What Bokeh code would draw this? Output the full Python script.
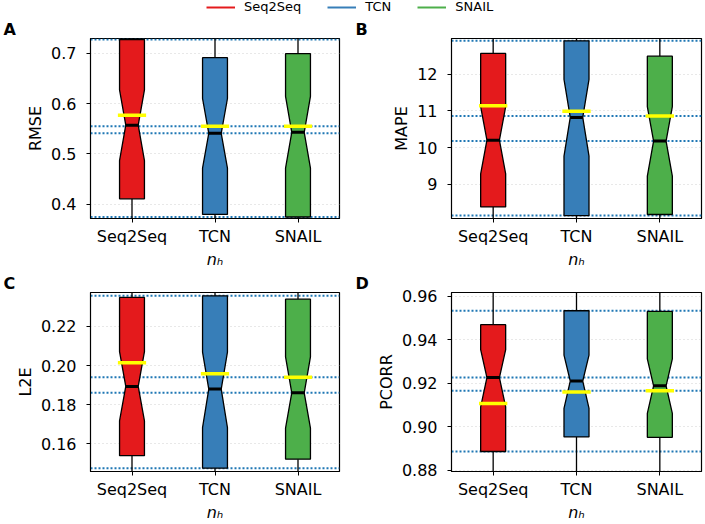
from bokeh.plotting import figure
from bokeh.layouts import column, row
from bokeh.models import (Range1d, FixedTicker, Span, Title, Legend, LegendItem,
                          PrintfTickFormatter)
from bokeh.embed import file_html
from bokeh.resources import INLINE

MODELS = ["Seq2Seq", "TCN", "SNAIL"]
COLORS = ["#e41a1c", "#377eb8", "#4daf4a"]
POS = [1, 2, 3]

# ---- RMSE ----
rmse_q1 = [0.411, 0.380, 0.375]
rmse_q3 = [0.727, 0.691, 0.699]
rmse_med = [0.557, 0.541, 0.543]
rmse_mean = [0.577, 0.555, 0.555]
rmse_nlo = [0.487, 0.472, 0.472]
rmse_nhi = [0.627, 0.610, 0.614]
rmse_wlo = [0.34, 0.34, 0.34]
rmse_whi = [0.76, 0.76, 0.76]
rmse_ticks = [0.4, 0.5, 0.6, 0.7]

# ---- MAPE ----
mape_q1 = [8.39, 8.155, 8.184]
mape_q3 = [12.563, 12.906, 12.49]
mape_med = [10.206, 10.823, 10.18]
mape_mean = [11.14, 10.995, 10.86]
mape_nlo = [9.29, 9.77, 9.23]
mape_nhi = [11.12, 11.86, 11.12]
mape_wlo = [7.5, 7.5, 7.5]
mape_whi = [13.5, 13.5, 13.5]
mape_ticks = [9, 10, 11, 12]

# ---- L2E ----
l2e_q1 = [0.1538, 0.1474, 0.1520]
l2e_q3 = [0.2349, 0.2357, 0.2340]
l2e_med = [0.1893, 0.1879, 0.1860]
l2e_mean = [0.2014, 0.1958, 0.1940]
l2e_nlo = [0.1716, 0.1682, 0.1679]
l2e_nhi = [0.2071, 0.2068, 0.2044]
l2e_wlo = [0.14, 0.14, 0.14]
l2e_whi = [0.245, 0.245, 0.245]
l2e_ticks = [0.16, 0.18, 0.20, 0.22]

# ---- PCORR ----
pcorr_q1 = [0.8887, 0.8954, 0.8952]
pcorr_q3 = [0.9470, 0.9534, 0.9531]
pcorr_med = [0.9227, 0.9211, 0.9189]
pcorr_mean = [0.9108, 0.9161, 0.9166]
pcorr_nlo = [0.9092, 0.9085, 0.9062]
pcorr_nhi = [0.9355, 0.9330, 0.9313]
pcorr_wlo = [0.87, 0.87, 0.87]
pcorr_whi = [0.97, 0.97, 0.97]
pcorr_ticks = [0.88, 0.90, 0.92, 0.94, 0.96]

FONT = "DejaVu Sans"
BOX_W = 0.3
MEAN_W = 0.34


def panel(letter, ylabel, q1, q3, med, mean, nlo, nhi, wlo, whi, yrange, ticks,
          fmt, higher_better, width, height, bl, br, bt, bb):
    p = figure(width=width, height=height, x_range=Range1d(0.5, 3.5),
               y_range=Range1d(*yrange), toolbar_location=None,
               output_backend="svg", min_border_left=bl, min_border_right=br,
               min_border_top=bt, min_border_bottom=bb)
    p.title = Title(text=letter, align="left", offset=-(bl - 3), standoff=0,
                    text_font=FONT, text_font_size="16px",
                    text_font_style="bold", text_color="black")
    p.outline_line_color = "black"
    p.outline_line_width = 1.2
    p.xgrid.visible = False
    p.ygrid.grid_line_color = "#d0d0d0"
    p.ygrid.grid_line_dash = "1 3"
    p.ygrid.grid_line_width = 1

    # reference lines (best statistics)
    best = max if higher_better else min
    for v in [max(q3), min(q1), best(mean), best(med)]:
        p.add_layout(Span(location=v, dimension="width", line_color="#1f77b4",
                          line_dash="2 2", line_width=2, level="underlay"))

    # whiskers
    p.segment(x0=POS, y0=q3, x1=POS, y1=whi, line_color="black", line_width=1.3)
    p.segment(x0=POS, y0=q1, x1=POS, y1=wlo, line_color="black", line_width=1.3)

    # notched boxes
    xs, ys = [], []
    h = BOX_W / 2
    n = BOX_W / 4
    for x, a, b, m, lo, hi in zip(POS, q1, q3, med, nlo, nhi):
        xs.append([x - h, x + h, x + h, x + n, x + h, x + h, x - h, x - h, x - n, x - h])
        ys.append([a, a, lo, m, hi, b, b, hi, m, lo])
    p.patches(xs=xs, ys=ys, fill_color=COLORS, line_color="black", line_width=1.3)

    # medians and means
    p.segment(x0=[x - n for x in POS], y0=med, x1=[x + n for x in POS], y1=med,
              line_color="black", line_width=3)
    p.segment(x0=[x - MEAN_W / 2 for x in POS], y0=mean,
              x1=[x + MEAN_W / 2 for x in POS], y1=mean,
              line_color="#ffff00", line_width=3.5)

    p.xaxis.ticker = FixedTicker(ticks=POS)
    p.xaxis.major_label_overrides = {i + 1: m for i, m in enumerate(MODELS)}
    p.yaxis.ticker = FixedTicker(ticks=ticks)
    p.yaxis.formatter = PrintfTickFormatter(format=fmt)
    for ax in (p.xaxis[0], p.yaxis[0]):
        ax.minor_tick_line_color = None
        ax.major_tick_in = 0
        ax.major_tick_out = 4
        ax.axis_line_color = "black"
        ax.major_label_text_font = FONT
        ax.major_label_text_font_size = "16px"
        ax.major_label_text_color = "black"
        ax.axis_label_text_font = FONT
        ax.axis_label_text_font_size = "16px"
        ax.axis_label_text_color = "black"
    p.yaxis.major_label_standoff = 10
    p.yaxis.axis_label = ylabel
    p.yaxis.axis_label_text_font_style = "normal"
    p.yaxis.axis_label_standoff = 3
    p.xaxis.axis_label = "n\u2095"
    p.xaxis.axis_label_text_font_style = "italic"
    p.xaxis.major_label_standoff = 4
    p.xaxis.axis_label_standoff = 1
    return p


pA = panel("A", "RMSE", rmse_q1, rmse_q3, rmse_med, rmse_mean, rmse_nlo, rmse_nhi,
           rmse_wlo, rmse_whi, (0.372, 0.729), rmse_ticks, "%.1f", False,
           352, 257, 90, 13, 24, 53)
pB = panel("B", "MAPE", mape_q1, mape_q3, mape_med, mape_mean, mape_nlo, mape_nhi,
           mape_wlo, mape_whi, (8.075, 12.97), mape_ticks, "%d", False,
           352, 257, 99, 3, 24, 53)
pC = panel("C", "L2E", l2e_q1, l2e_q3, l2e_med, l2e_mean, l2e_nlo, l2e_nhi,
           l2e_wlo, l2e_whi, (0.1457, 0.2374), l2e_ticks, "%.2f", False,
           352, 253, 90, 13, 18, 53)
pD = panel("D", "PCORR", pcorr_q1, pcorr_q3, pcorr_med, pcorr_mean, pcorr_nlo,
           pcorr_nhi, pcorr_wlo, pcorr_whi, (0.8795, 0.9618), pcorr_ticks, "%.2f",
           True, 352, 253, 99, 3, 18, 53)

# legend strip
lf = figure(width=704, height=14, x_range=Range1d(0, 1), y_range=Range1d(0, 1),
            toolbar_location=None, output_backend="svg", min_border=0,
            x_axis_location=None, y_axis_location=None)
lf.outline_line_color = None
lf.grid.visible = False
items = []
for m, c in zip(MODELS, COLORS):
    r = lf.line(x=[0.5, 0.5], y=[float("nan"), float("nan")], line_color=c,
                line_width=2)
    items.append(LegendItem(label=m, renderers=[r]))
leg = Legend(items=items, orientation="horizontal", location=(206, 0),
             border_line_color=None, background_fill_alpha=0, padding=0, margin=0,
             spacing=26, glyph_width=29, glyph_height=14, label_standoff=9,
             label_height=14, label_text_font=FONT, label_text_font_size="13px",
             label_text_color="black")
lf.add_layout(leg, "center")

layout = column(lf, row(pA, pB), row(pC, pD))
open("out.html", "w").write(file_html(layout, INLINE))
